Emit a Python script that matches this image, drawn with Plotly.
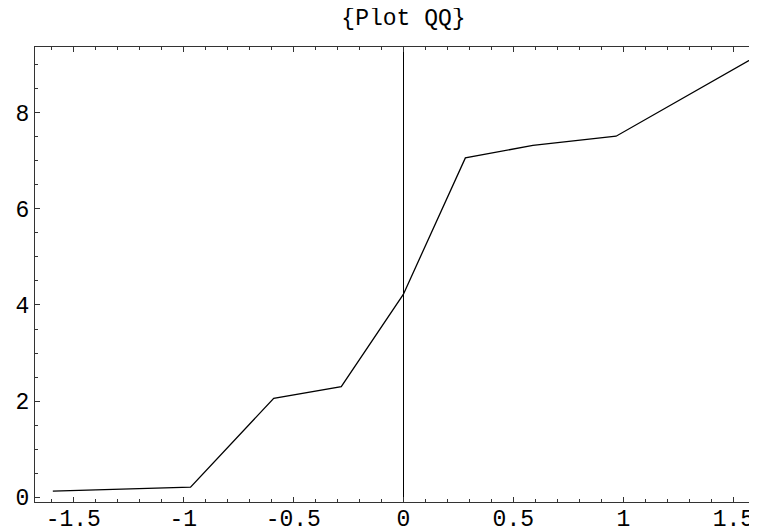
import plotly.graph_objects as go

# Data (theoretical normal quantiles vs sample values)
x_quantiles = [-1.593, -0.967, -0.589, -0.282, 0.0, 0.282, 0.589, 0.967, 1.593]
y_values = [0.13, 0.21, 2.06, 2.30, 4.22, 7.06, 7.32, 7.51, 9.14]

x_tickvals = [-1.5, -1, -0.5, 0, 0.5, 1, 1.5]
x_ticktext = ["-1.5", "-1", "-0.5", "0", "0.5", "1", "1.5"]
y_tickvals = [0, 2, 4, 6, 8]
y_ticktext = ["0", "2", "4", "6", "8"]

title_text = "{Plot QQ}"

mono = "Liberation Mono, Courier New, monospace"

fig = go.Figure()
fig.add_trace(go.Scatter(
    x=x_quantiles, y=y_values, mode="lines",
    line=dict(color="black", width=1.3),
    showlegend=False, hoverinfo="skip",
))

# page body has an 8px margin, so the figure is sized to fit the window
fig.update_layout(
    width=749, height=522,
    margin=dict(l=27, r=1, t=39, b=28, autoexpand=False),
    paper_bgcolor="white", plot_bgcolor="white",
    title=dict(text=title_text, x=0.528, xanchor="center", y=0.998, yanchor="top",
               font=dict(family=mono, size=23, color="black")),
    font=dict(family=mono, size=23, color="black"),
)

fig.update_xaxes(
    range=[-1.674, 1.603], automargin=False,
    tickvals=x_tickvals, ticktext=x_ticktext,
    ticks="inside", ticklen=5, tickwidth=1, tickcolor="#333",
    minor=dict(dtick=0.1, tick0=0, ticks="inside", ticklen=3, tickwidth=1, tickcolor="#333"),
    showline=True, linecolor="#333", linewidth=1.2, mirror="ticks",
    showgrid=False, zeroline=True, zerolinecolor="black", zerolinewidth=1,
    ticklabelstandoff=-5,
    tickfont=dict(family=mono, size=23, color="black"),
)
fig.update_yaxes(
    range=[-0.098, 9.366], automargin=False,
    tickvals=y_tickvals, ticktext=y_ticktext,
    ticks="inside", ticklen=5, tickwidth=1, tickcolor="#333",
    minor=dict(dtick=0.5, tick0=0, ticks="inside", ticklen=3, tickwidth=1, tickcolor="#333"),
    showline=True, linecolor="#333", linewidth=1.2, mirror="ticks",
    showgrid=False, zeroline=False,
    ticklabelstandoff=0,
    tickfont=dict(family=mono, size=23, color="black"),
)

fig.write_html("out.html")
